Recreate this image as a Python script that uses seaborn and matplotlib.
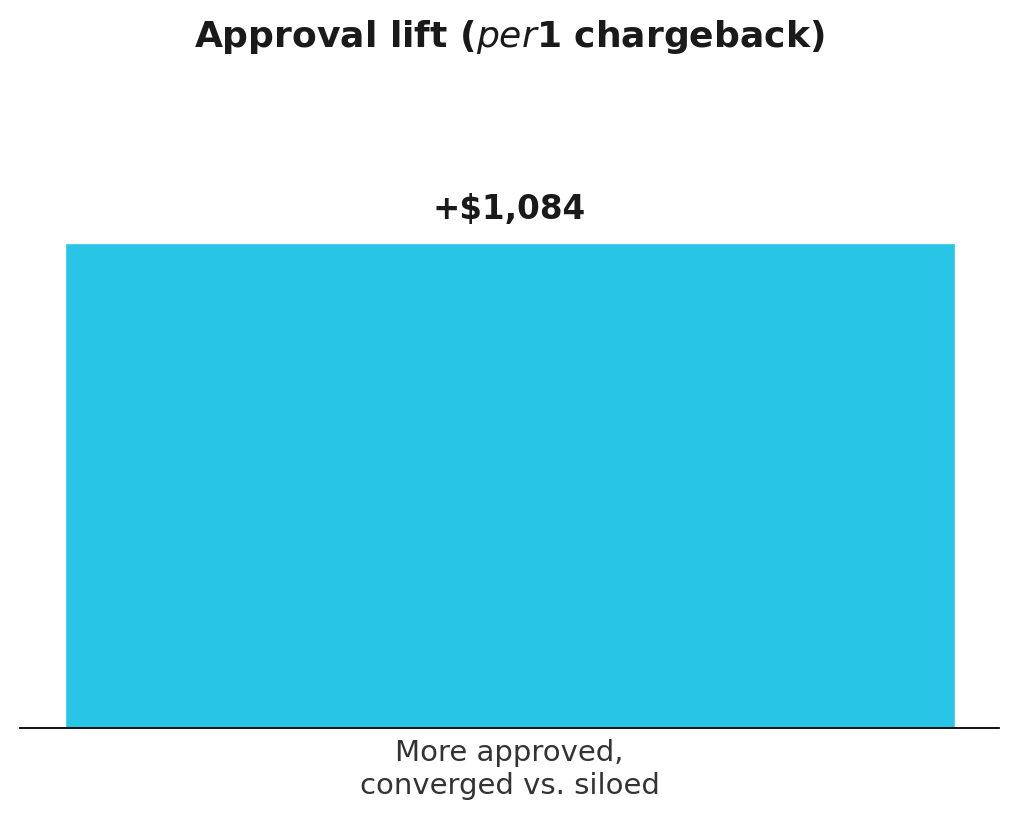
"""Single-bar chart: approval lift per $1 chargeback."""

import matplotlib.pyplot as plt
import pandas as pd
import seaborn as sns

categories = ["More approved,\nconverged vs. siloed"]
values = [1084]
value_labels = ["+$1,084"]

BAR_COLOR = "#29C5E6"


def main():
    df = pd.DataFrame({"category": categories, "value": values})

    sns.set_style("white")
    plt.rcParams["font.family"] = ["DejaVu Sans"]

    fig = plt.figure(figsize=(10.19, 8.19), dpi=100)
    ax = fig.add_axes([20 / 1019, 1 - 728 / 819, 979 / 1019, 582 / 819])

    sns.barplot(data=df, x="category", y="value", color=BAR_COLOR,
                width=0.9, saturation=1, ax=ax)
    ax.set_xlim(-0.495, 0.495)
    ax.set_ylim(0, values[0] * 1.2)

    for i, (v, lab) in enumerate(zip(values, value_labels)):
        ax.annotate(lab, (i, v), xytext=(0, 12), textcoords="offset points",
                    ha="center", va="bottom", fontsize=23.5, fontweight="bold",
                    color="#1a1a1a")

    for side in ["top", "left", "right"]:
        ax.spines[side].set_visible(False)
    ax.spines["bottom"].set_color("black")
    ax.spines["bottom"].set_linewidth(1.3)
    ax.set_yticks([])
    ax.set_xlabel("")
    ax.set_ylabel("")
    ax.tick_params(axis="x", length=0, labelsize=21, labelcolor="#333333", pad=8)

    fig.suptitle("Approval lift ($per$1 chargeback)", fontsize=26,
                 fontweight="bold", color="#1a1a1a", y=0.978)

    fig.savefig("out.png", dpi=100)
    plt.close(fig)


if __name__ == "__main__":
    main()
